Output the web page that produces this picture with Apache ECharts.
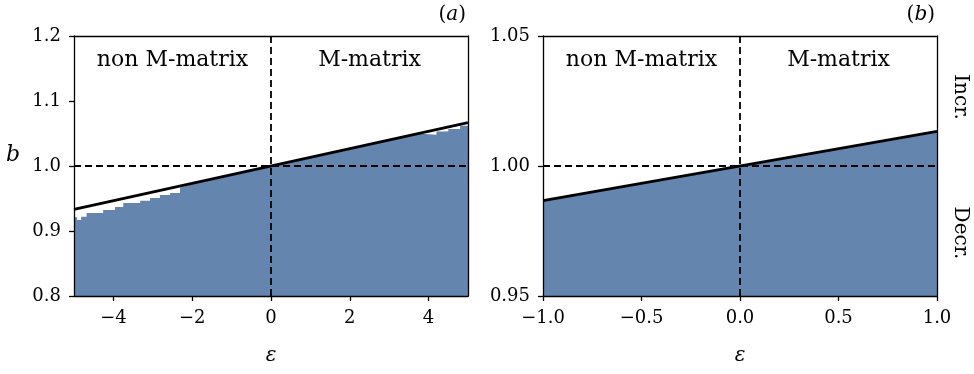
<!DOCTYPE html>
<html>
<head>
<meta charset="utf-8">
<script src="https://cdn.jsdelivr.net/npm/echarts@6/dist/echarts.min.js"></script>
<style>
  html, body { margin: 0; background: #fff; }
  #chart { width: 974px; height: 374px; }
</style>
</head>
<body>
<div id="chart"></div>
<script>
// panel (a): eps in [-5, 5]
const xTicksA = [-4, -2, 0, 2, 4]
const yTicksA = [0.8, 0.9, 1.0, 1.1, 1.2]
const lineEpsA = [-5, 5]
const lineBA = [0.9333, 1.0667]
// upper edge of the shaded region
const fillEpsA = [-5, -4.92, -4.92, -4.82, -4.82, -4.68, -4.68, -4.26, -4.26, -3.96, -3.96, -3.75, -3.75,
  -3.32, -3.32, -3.07, -3.07, -2.82, -2.82, -2.56, -2.56, -2.31, -2.31, -2.0, 3.8, 3.8, 4.2, 4.2, 4.5, 4.5, 4.8, 4.8, 5]
const fillBA = [0.921, 0.921, 0.917, 0.917, 0.922, 0.922, 0.9277, 0.9277, 0.9323, 0.9323, 0.937, 0.937, 0.943,
  0.943, 0.9466, 0.9466, 0.9508, 0.9508, 0.9554, 0.9554, 0.9585, 0.9585, 0.9665, 0.972, 1.0497, 1.048, 1.048, 1.053, 1.053, 1.057, 1.057, 1.062, 1.062]

// panel (b): eps in [-1, 1]
const xTicksB = [-1.0, -0.5, 0.0, 0.5, 1.0]
const yTicksB = [0.95, 1.00, 1.05]
const lineEpsB = [-1, 1]
const lineBB = [0.9867, 1.0133]
const fillEpsB = [-1, 1]
const fillBB = [0.9867, 1.0133]

const SERIF = 'DejaVu Serif'
const FILL = '#6485ad'

const zip = (xs, ys) => xs.map((x, i) => [x, ys[i]])
const fmt = (v, d) => v.toFixed(d).replace('-', '\u2212')

function tickAxis(gridIndex, position, min, max, ticks, digits, extra) {
  return Object.assign({
    type: 'value', gridIndex, position, min, max, z: 5,
    axisLine: { show: true, onZero: false, lineStyle: { color: '#000', width: 1.3 } },
    axisTick: { show: true, length: 5, customValues: ticks, lineStyle: { color: '#000', width: 1.3 } },
    axisLabel: {
      customValues: ticks, margin: 13, formatter: v => fmt(v, digits),
      fontFamily: SERIF, fontSize: 18, color: '#000'
    },
    splitLine: { show: false }
  }, extra || {})
}

function spine(gridIndex, position, min, max) {
  return {
    type: 'value', gridIndex, position, min, max, z: 5,
    axisLine: { show: true, onZero: false, lineStyle: { color: '#000', width: 1.3 } },
    axisTick: { show: false }, axisLabel: { show: false }, splitLine: { show: false }
  }
}

const epsName = {
  name: '\u03b5', nameLocation: 'middle', nameGap: 50,
  nameTextStyle: { fontFamily: SERIF, fontStyle: 'italic', fontSize: 20, color: '#000' }
}

const dashed = {
  silent: true, symbol: ['none', 'none'], label: { show: false },
  lineStyle: { color: '#000', type: [7, 4], width: 1.8 },
  data: [{ xAxis: 0 }, { yAxis: 1 }]
}

function fillSeries(xi, data) {
  return {
    type: 'line', xAxisIndex: xi, yAxisIndex: xi, data, symbol: 'none', z: 1,
    lineStyle: { width: 0 }, areaStyle: { color: FILL, opacity: 1, origin: 'start' },
    markLine: dashed
  }
}

function curveSeries(xi, data) {
  return {
    type: 'line', xAxisIndex: xi, yAxisIndex: xi, data, symbol: 'none', z: 3,
    lineStyle: { color: '#000', width: 2.8 }
  }
}

const chart = echarts.init(document.getElementById('chart'))

chart.setOption({
  animation: false,
  grid: [
    { left: 74, right: 506, top: 36, bottom: 78 },
    { left: 543, right: 37, top: 36, bottom: 78 }
  ],
  xAxis: [
    tickAxis(0, 'bottom', -5, 5, xTicksA, 0, epsName),
    tickAxis(1, 'bottom', -1, 1, xTicksB, 1, epsName),
    spine(0, 'top', -5, 5),
    spine(1, 'top', -1, 1)
  ],
  yAxis: [
    tickAxis(0, 'left', 0.8, 1.2, yTicksA, 1),
    tickAxis(1, 'left', 0.95, 1.05, yTicksB, 2),
    spine(0, 'right', 0.8, 1.2),
    spine(1, 'right', 0.95, 1.05)
  ],
  series: [
    fillSeries(0, zip(fillEpsA, fillBA)),
    curveSeries(0, zip(lineEpsA, lineBA)),
    fillSeries(1, zip(fillEpsB, fillBB)),
    curveSeries(1, zip(lineEpsB, lineBB))
  ]
})

// region labels placed in data coordinates
const regionText = (grid, eps, b, text) => {
  const p = chart.convertToPixel({ gridIndex: grid }, [eps, b])
  return {
    type: 'text', x: p[0], y: p[1], z: 10,
    style: { text, fontFamily: SERIF, fontSize: 22, fill: '#000', align: 'center', verticalAlign: 'middle' }
  }
}

const panelTag = (x, letter) => ({
  type: 'text', x, y: 15, z: 10,
  style: {
    text: '{p|(}{i|' + letter + '}{p|)}', align: 'right', verticalAlign: 'middle',
    rich: {
      p: { fontFamily: SERIF, fontSize: 20, fill: '#000' },
      i: { fontFamily: SERIF, fontSize: 20, fontStyle: 'italic', fill: '#000' }
    }
  }
})

const sideText = (y, text) => ({
  type: 'text', x: 960, y, rotation: -Math.PI / 2, z: 10,
  style: { text, fontFamily: SERIF, fontSize: 20, fill: '#000', align: 'center', verticalAlign: 'middle' }
})

chart.setOption({
  graphic: [
    regionText(0, -2.5, 1.163, 'non M-matrix'),
    regionText(0, 2.5, 1.163, 'M-matrix'),
    regionText(1, -0.5, 1.0408, 'non M-matrix'),
    regionText(1, 0.5, 1.0408, 'M-matrix'),
    panelTag(466, 'a'),
    panelTag(935, 'b'),
    sideText(97, 'Incr.'),
    sideText(233, 'Decr.'),
    {
      type: 'text', x: 13, y: 155, z: 10,
      style: { text: 'b', fontFamily: SERIF, fontSize: 22, fontStyle: 'italic', fill: '#000', align: 'center', verticalAlign: 'middle' }
    }
  ]
})
</script>
</body>
</html>
